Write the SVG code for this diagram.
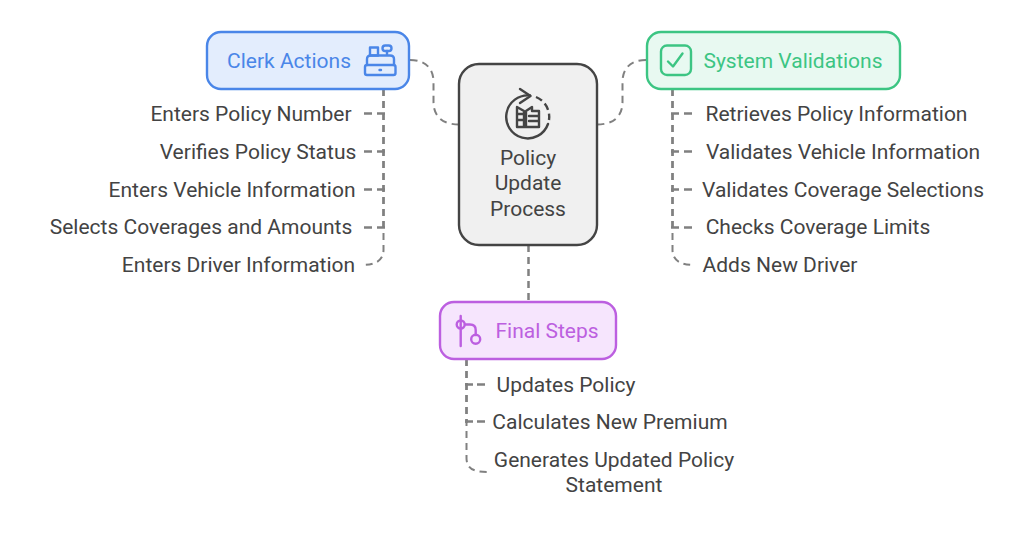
<svg xmlns="http://www.w3.org/2000/svg" width="1032" height="536" viewBox="0 0 1032 536">
<style>
text{font-family:Roboto,"Liberation Sans",sans-serif;font-size:21px;fill:#434343;text-anchor:middle}
.n{stroke-width:2.400px}
.c{fill:none;stroke:#808080;stroke-width:2px;stroke-dasharray:7 5}
.s{fill:none;stroke:#808080;stroke-width:2.600px;stroke-dasharray:8 5}
.i{fill:none;stroke-width:2.400px;stroke-linecap:round;stroke-linejoin:round}
</style>
<rect width="1032" height="536" fill="#fff"/>
<g id="connectors">
<path class="c" pathLength="91" d="M410 60C425 60 433.500 68 433.500 82V102C433.500 116 442 124.500 459 124.500"/>
<path class="c" pathLength="91" d="M646 60C631 60 622.500 68 622.500 82V102C622.500 116 614 124.500 597 124.500"/>
<path class="c" d="M528.500 245V302"/>
<path class="c" d="M528.500 245V302"/>
<path class="c" d="M383.500 89V228"/>
<path class="c" d="M383.500 89V228"/>
<path class="c" d="M383.500 89V250C383.500 260 376 265 362 265"/>
<path class="s" d="M385 113.500H364"/>
<path class="s" d="M385 151.500H364"/>
<path class="s" d="M385 189.500H364"/>
<path class="s" d="M385 227.500H364"/>
<path class="c" d="M672.500 89V228"/>
<path class="c" d="M672.500 89V228"/>
<path class="c" d="M672.500 89V250C672.500 260 680 265 694 265"/>
<path class="s" d="M671 113.500H692"/>
<path class="s" d="M671 151.500H692"/>
<path class="s" d="M671 189.500H692"/>
<path class="s" d="M671 227.500H692"/>
<path class="c" d="M466.500 359V423"/>
<path class="c" d="M466.500 359V423"/>
<path class="c" d="M466.500 359V458C466.500 468 473 472 487 472"/>
<path class="s" d="M465 384.500H485" style="stroke-dasharray:8 4"/>
<path class="s" d="M465 421.500H485" style="stroke-dasharray:8 4"/>
</g>
<g id="clerk">
<rect class="n" x="207" y="32" width="202" height="57" rx="14" fill="#e3edfd" stroke="#4a86e8"/>
<text x="289" y="68" style="fill:#4a86e8">Clerk Actions</text>
<g class="i" stroke="#4a86e8">
<rect x="370" y="47.500" width="8" height="8"/>
<rect x="382.500" y="45.500" width="9" height="5.500" rx="2.700"/>
<path d="M387 51V55.500M367 65V59Q367 55.500 371 55.500H390Q394 55.500 394 59V65"/>
<rect x="365" y="65" width="30.500" height="10" rx="2"/>
<path d="M379.500 70H381"/>
</g>
</g>
<g id="system">
<rect class="n" x="647" y="32" width="253" height="57" rx="14" fill="#e8f9f1" stroke="#3cc583"/>
<text x="793" y="68" style="fill:#3cc583">System Validations</text>
<g class="i" stroke="#3cc583">
<rect x="661" y="45.500" width="30" height="29.500" rx="6"/>
<path d="M668 61.500L673 66.500L682.500 53.500"/>
</g>
</g>
<g id="center">
<rect class="n" x="459" y="64" width="138" height="181" rx="20" fill="#f0f0f0" stroke="#444"/>
<g class="i" stroke="#444">
<path d="M530 95.500A21.500 21.500 0 1 0 548 124"/>
<path d="M536 97A21.500 21.500 0 0 1 549 120" stroke-dasharray="7 4" stroke-linecap="butt"/>
<path d="M520 89L530.500 96L520 103"/>
<path d="M517 127V107L524 111V127M517 127H539V111M526 127V111L532 107V111M539 111H532M517 114H524M517 120H524M529 116H539M529 121H539"/>
</g>
<text x="528" y="165">Policy</text>
<text x="528" y="190">Update</text>
<text x="528" y="216">Process</text>
</g>
<g id="final">
<rect class="n" x="440" y="302" width="176" height="57" rx="14" fill="#f6e5fd" stroke="#bc5fe0"/>
<text x="547" y="338" style="fill:#bc5fe0">Final Steps</text>
<g class="i" stroke="#bc5fe0">
<path d="M460.700 316V346M465 324.500H470Q475.700 324.500 475.700 330V335"/>
<circle cx="460.700" cy="324.500" r="4"/>
<circle cx="475.700" cy="339.300" r="4.500"/>
</g>
</g>
<g id="clerk-items">
<text x="251" y="121">Enters Policy Number</text>
<text x="258" y="159">Verifies Policy Status</text>
<text x="232" y="197">Enters Vehicle Information</text>
<text x="201" y="234">Selects Coverages and Amounts</text>
<text x="238.500" y="272">Enters Driver Information</text>
</g>
<g id="system-items">
<text x="836.500" y="121">Retrieves Policy Information</text>
<text x="843" y="159">Validates Vehicle Information</text>
<text x="843" y="197">Validates Coverage Selections</text>
<text x="818" y="234">Checks Coverage Limits</text>
<text x="780" y="272">Adds New Driver</text>
</g>
<g id="final-items">
<text x="566" y="392">Updates Policy</text>
<text x="610" y="429">Calculates New Premium</text>
<text x="614" y="467">Generates Updated Policy</text>
<text x="614" y="492">Statement</text>
</g>
</svg>
